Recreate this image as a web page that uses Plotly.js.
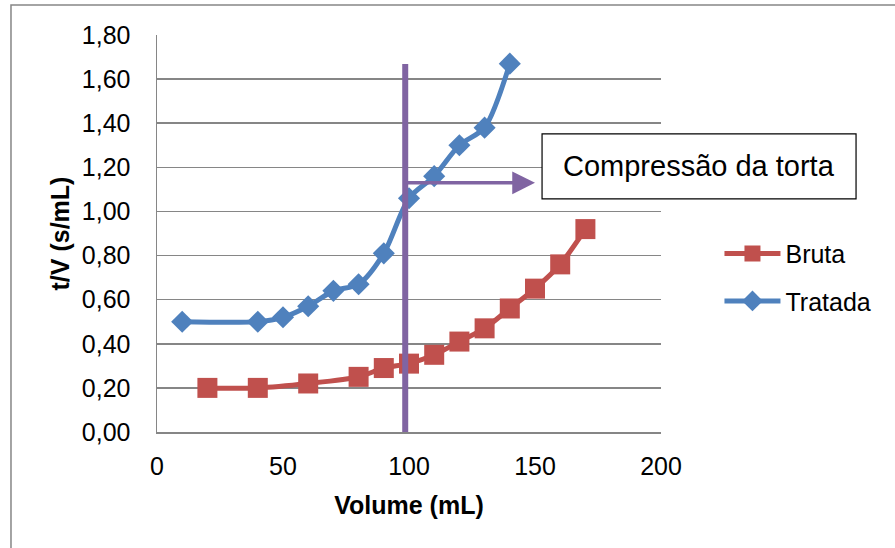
<!DOCTYPE html>
<html>
<head>
<meta charset="utf-8">
<script src="https://cdn.plot.ly/plotly-3.0.1.min.js"></script>
<style>
  html, body { margin: 0; padding: 0; background: #ffffff; }
  #chart { width: 895px; height: 548px; }
</style>
</head>
<body>
<div id="chart"></div>
<script>
// Filtration data: t/V against filtrate volume
var volBruta = [20, 40, 60, 80, 90, 100, 110, 120, 130, 140, 150, 160, 170];
var tvBruta = [0.20, 0.20, 0.22, 0.25, 0.29, 0.31, 0.35, 0.41, 0.47, 0.56, 0.65, 0.76, 0.92];

var volTratada = [10, 40, 50, 60, 70, 80, 90, 100, 110, 120, 130, 140];
var tvTratada = [0.50, 0.50, 0.52, 0.57, 0.64, 0.67, 0.81, 1.06, 1.16, 1.30, 1.38, 1.67];

var seriesNames = ['Bruta', 'Tratada'];
var noteText = 'Compressão da torta';
var xTitle = 'Volume (mL)';
var yTitle = 't/V (s/mL)';

var FONT = '"Liberation Sans", Arial, sans-serif';
var GRID = '#868686';
var PURPLE = '#8064A2';

var traces = [
  {
    x: volBruta, y: tvBruta, name: seriesNames[0],
    type: 'scatter', mode: 'lines+markers',
    line: { color: '#C0504D', width: 5, shape: 'spline', smoothing: 0.8 },
    marker: { symbol: 'square', size: 20, color: '#C0504D' },
    legendgroup: 'a'
  },
  {
    x: volTratada, y: tvTratada, name: seriesNames[1],
    type: 'scatter', mode: 'lines+markers',
    line: { color: '#4F81BD', width: 5, shape: 'spline', smoothing: 0.8 },
    marker: { symbol: 'diamond', size: 17, color: '#4F81BD' },
    legendgroup: 'b'
  }
];

var layout = {
  width: 895, height: 548,
  margin: { l: 157, r: 234, t: 35, b: 116 },
  paper_bgcolor: '#ffffff', plot_bgcolor: '#ffffff',
  separators: ',.',
  font: { family: FONT, size: 25, color: '#000000' },
  showlegend: true,
  legend: {
    x: 1.116, y: 0.39, xanchor: 'left', yanchor: 'middle',
    font: { family: FONT, size: 25, color: '#000000' },
    traceorder: 'grouped', tracegroupgap: 12,
    itemwidth: 56, bgcolor: 'rgba(0,0,0,0)'
  },
  xaxis: {
    range: [0, 200], dtick: 50, tick0: 0,
    showgrid: false, zeroline: false,
    showline: true, linecolor: GRID, linewidth: 1.5,
    ticks: '', ticklabelstandoff: 11,
    tickfont: { family: FONT, size: 25 },
    title: { text: xTitle, font: { family: FONT, size: 25, weight: 'bold' }, standoff: 18 }
  },
  yaxis: {
    range: [0, 1.8], dtick: 0.2, tick0: 0, tickformat: '.2f',
    showgrid: true, gridcolor: GRID, gridwidth: 1.5,
    zeroline: false,
    showline: true, linecolor: GRID, linewidth: 1.5,
    ticks: '', ticklabelstandoff: 20,
    tickfont: { family: FONT, size: 25 },
    title: { text: yTitle, font: { family: FONT, size: 25, weight: 'bold' }, standoff: 5 }
  },
  shapes: [
    // outer chart frame
    { type: 'rect', xref: 'paper', yref: 'paper',
      x0: -0.2897, x1: 1.48, y0: -0.31, y1: 1.0756,
      line: { color: GRID, width: 1.5 }, fillcolor: 'rgba(0,0,0,0)', layer: 'below' },
    // vertical marker line
    { type: 'line', xref: 'x', yref: 'y',
      x0: 98.5, x1: 98.5, y0: -0.012, y1: 1.668,
      line: { color: PURPLE, width: 6 } },
    // note box
    { type: 'rect', xref: 'paper', yref: 'paper',
      x0: 0.764, x1: 1.387, y0: 0.587, y1: 0.751,
      line: { color: '#000000', width: 1.2 }, fillcolor: '#ffffff' }
  ],
  annotations: [
    { xref: 'x', yref: 'y', axref: 'x', ayref: 'y',
      x: 150, y: 1.13, ax: 98.5, ay: 1.13,
      text: '', showarrow: true, arrowhead: 2, arrowsize: 1.3,
      arrowwidth: 3.5, arrowcolor: PURPLE, standoff: 0, startstandoff: 0 },
    { xref: 'paper', yref: 'paper', x: 1.075, y: 0.669,
      xanchor: 'center', yanchor: 'middle', showarrow: false,
      text: noteText, font: { family: FONT, size: 29, color: '#000000' } }
  ]
};

Plotly.newPlot('chart', traces, layout, { displayModeBar: false, staticPlot: true });
</script>
</body>
</html>
